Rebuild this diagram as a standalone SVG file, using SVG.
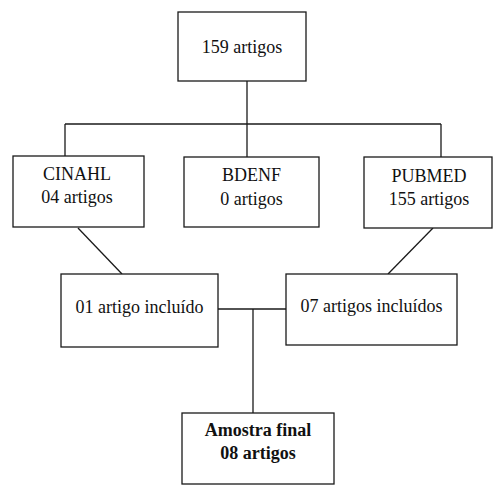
<svg xmlns="http://www.w3.org/2000/svg" width="495" height="498" viewBox="0 0 495 498">
<style>
.box{fill:#fff;stroke:#1a1a1a;stroke-width:1.3}
.ln{stroke:#1a1a1a;stroke-width:1.3;fill:none}
text{font-family:"Liberation Serif","Times New Roman",serif;font-size:18px;fill:#111;text-anchor:middle}
.b{font-weight:bold}
</style>
<rect width="495" height="498" fill="#fff"/>
<g id="connectors">
<line class="ln" x1="247" y1="81" x2="247" y2="157"/>
<line class="ln" x1="65" y1="124" x2="441" y2="124"/>
<line class="ln" x1="65" y1="124" x2="65" y2="156"/>
<line class="ln" x1="441" y1="124" x2="441" y2="157"/>
<line class="ln" x1="78" y1="228" x2="122" y2="274"/>
<line class="ln" x1="433" y1="228" x2="388" y2="274"/>
<line class="ln" x1="218" y1="309" x2="286" y2="309"/>
<line class="ln" x1="253" y1="309" x2="253" y2="413"/>
</g>
<g id="total">
<rect class="box" x="178" y="12" width="128" height="69"/>
<text x="242" y="53">159 artigos</text>
</g>
<g id="cinahl">
<rect class="box" x="13" y="156" width="131" height="71"/>
<text x="77" y="180">CINAHL</text>
<text x="77" y="203">04 artigos</text>
</g>
<g id="bdenf">
<rect class="box" x="184" y="157" width="135" height="70"/>
<text x="251.5" y="181">BDENF</text>
<text x="251.5" y="205">0 artigos</text>
</g>
<g id="pubmed">
<rect class="box" x="364" y="157" width="128" height="71"/>
<text x="429" y="182">PUBMED</text>
<text x="429" y="205">155 artigos</text>
</g>
<g id="incl1">
<rect class="box" x="61" y="274" width="157" height="73"/>
<text x="139.5" y="313">01 artigo incluído</text>
</g>
<g id="incl7">
<rect class="box" x="286" y="274" width="171" height="71"/>
<text x="371.5" y="312">07 artigos incluídos</text>
</g>
<g id="final">
<rect class="box" x="182" y="413" width="152" height="71"/>
<text class="b" x="258" y="436">Amostra final</text>
<text class="b" x="258" y="459">08 artigos</text>
</g>
</svg>
